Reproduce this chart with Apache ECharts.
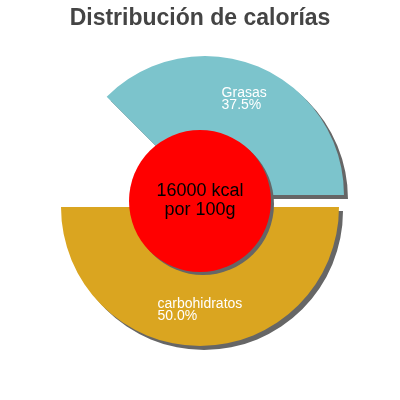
<!DOCTYPE html>
<html>
<head>
<meta charset="utf-8">
<script src="https://cdn.jsdelivr.net/npm/echarts@6/dist/echarts.min.js"></script>
<style>
  html, body { margin: 0; padding: 0; background: #fff; }
  #chart { width: 400px; height: 400px; }
</style>
</head>
<body>
<div id="chart"></div>
<script>
// datos del gráfico
const categories = ['Grasas', 'carbohidratos'];
const percents = [37.5, 50.0];
const centerLines = ['16000 kcal', 'por 100g'];
const chartTitle = 'Distribución de calorías';

const sliceColors = ['#7CC4CC', '#DAA520'];
const fontFamily = 'Arial, "Liberation Sans", sans-serif';
const labelSize = 14;

// ancho del texto para alinear las dos líneas a la izquierda
function textWidth(str, size) {
  const ctx = document.createElement('canvas').getContext('2d');
  ctx.font = size + 'px Arial, "Liberation Sans", sans-serif';
  return Math.ceil(ctx.measureText(str).width);
}

const rest = 100 - percents.reduce((a, b) => a + b, 0);

const pieData = [];
pieData.push({
  name: categories[0],
  value: percents[0],
  selected: true,
  itemStyle: { color: sliceColors[0] }
});
// parte sin dato (hueco)
pieData.push({
  name: '',
  value: rest,
  itemStyle: { color: 'transparent', shadowColor: 'transparent' },
  label: { show: false },
  emphasis: { disabled: true }
});
pieData.push({
  name: categories[1],
  value: percents[1],
  itemStyle: { color: sliceColors[1] }
});

const chart = echarts.init(document.getElementById('chart'), null, { renderer: 'canvas' });

const option = {
  animation: false,
  title: {
    text: chartTitle,
    left: 'center',
    top: 2,
    textStyle: {
      fontFamily: fontFamily,
      fontSize: 23,
      fontWeight: 'bold',
      color: '#444444'
    }
  },
  series: [
    {
      type: 'pie',
      center: [200, 207],
      radius: [62, 139],
      startAngle: 0,
      clockwise: false,
      selectedMode: 'single',
      selectedOffset: 13,
      avoidLabelOverlap: false,
      itemStyle: {
        shadowColor: '#666666',
        shadowOffsetX: 4,
        shadowOffsetY: 4,
        shadowBlur: 0.5
      },
      label: {
        show: true,
        position: 'inside',
        formatter: function (p) {
          return '{n|' + p.name + '}\n{n|' + p.value.toFixed(1) + '%}';
        },
        rich: {}
      },
      labelLine: { show: false },
      emphasis: { disabled: true },
      data: pieData.map(function (d) {
        if (!d.name) return d;
        const w = textWidth(d.name, labelSize);
        const r = {};
        r.n = {
          width: w,
          align: 'left',
          fontSize: labelSize,
          lineHeight: 12,
          color: '#ffffff',
          fontFamily: fontFamily
        };
        return Object.assign({}, d, { label: { rich: r } });
      })
    },
    {
      type: 'pie',
      z: 5,
      center: [200, 201],
      radius: [0, 71],
      silent: true,
      itemStyle: {
        color: '#FF0000',
        shadowColor: '#666666',
        shadowOffsetX: 3,
        shadowOffsetY: 3,
        shadowBlur: 0.5
      },
      label: {
        show: true,
        position: 'center',
        formatter: centerLines.join('\n'),
        fontFamily: fontFamily,
        fontSize: 18,
        lineHeight: 19,
        color: '#000000'
      },
      labelLine: { show: false },
      emphasis: { disabled: true },
      data: [{ name: 'total', value: 1 }]
    }
  ]
};

chart.setOption(option);
</script>
</body>
</html>
